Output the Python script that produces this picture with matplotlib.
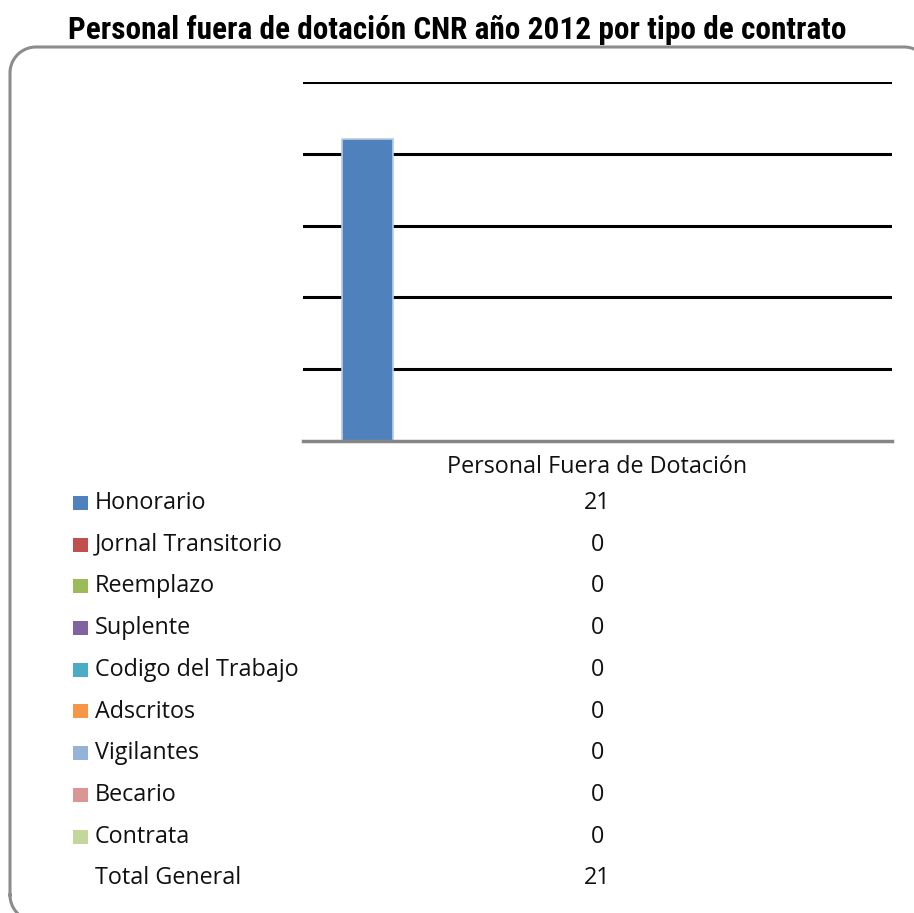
import matplotlib
matplotlib.use("Agg")
import matplotlib.pyplot as plt
import numpy as np
from matplotlib.patches import Rectangle
from matplotlib import font_manager

titulo = "Personal fuera de dotación CNR año 2012 por tipo de contrato"
categoria = "Personal Fuera de Dotación"
series = ["Honorario", "Jornal Transitorio", "Reemplazo", "Suplente",
          "Codigo del Trabajo", "Adscritos", "Vigilantes", "Becario", "Contrata"]
valores = [21, 0, 0, 0, 0, 0, 0, 0, 0]
total = 21
colores = ["#4F81BD", "#C0504D", "#9BBB59", "#8064A2", "#4BACC6",
           "#F79646", "#95B3D7", "#D99694", "#C3D69B"]

# fuente angosta para el titulo si existe
nombres = {f.name for f in font_manager.fontManager.ttflist}
fam_titulo = [n for n in ["Liberation Sans Narrow", "Roboto Condensed",
                          "DejaVu Sans Condensed", "Open Sans Condensed"]
              if n in nombres] + ["Liberation Sans", "DejaVu Sans"]

W, H = 914, 913
fig = plt.figure(figsize=(W / 100, H / 100), dpi=100)

# capa de fondo en pixeles para el marco y la tabla
fondo = fig.add_axes([0, 0, 1, 1])
fondo.set_xlim(0, W)
fondo.set_ylim(H, 0)
fondo.axis("off")

# marco redondeado, se sale por la derecha y por abajo
x0, y0m, x1, y1m, r = 10, 47, 930, 921, 26
def arco(cx, cy, a0, a1):
    a = np.radians(np.linspace(a0, a1, 30))
    return cx + r * np.cos(a), cy - r * np.sin(a)
ax1, ay1 = arco(x0 + r, y1m - r, 180, 270)
ax2, ay2 = arco(x1 - r, y1m - r, 270, 360)
ax3, ay3 = arco(x1 - r, y0m + r, 0, 90)
ax4, ay4 = arco(x0 + r, y0m + r, 90, 180)
bx = np.concatenate([ax1, ax2, ax3, ax4, ax1[:1]])
by = np.concatenate([ay1, ay2, ay3, ay4, ay1[:1]])
fondo.plot(bx, by, color="#8C8C8C", linewidth=2.2)

t = fondo.text(W / 2, 30, titulo, ha="center", va="center", fontsize=22,
               fontweight="bold", fontstretch="condensed", family=fam_titulo)
fig.canvas.draw()
ancho = t.get_window_extent().width
t.set_fontsize(22 * 774 / ancho)

ax = fig.add_axes([303 / W, 1 - 441 / H, 589 / W, 359 / H])
x = list(range(len(series)))
ax.bar(x, valores, width=1.0, color=colores, edgecolor="#B9CDE5",
       linewidth=1.2, zorder=3)
ax.set_xlim(-1.27, 10.28)
ax.set_ylim(0, 25)
ax.set_yticks([5, 10, 15, 20, 25])
ax.yaxis.grid(True, color="black", linewidth=2.2, zorder=1)
ax.set_yticklabels([])
ax.tick_params(axis="y", length=0)
ax.set_xticks([])
ax.patch.set_alpha(0)
for s in ["left", "right", "top"]:
    ax.spines[s].set_visible(False)
ax.spines["bottom"].set_color("#868686")
ax.spines["bottom"].set_linewidth(2.5)
ax.spines["bottom"].set_zorder(4)

# tabla de datos
fuente = ["Open Sans", "DejaVu Sans"]
tam = 16.8
cx = 597.5
fondo.text(cx, 467, categoria, ha="center", va="center", fontsize=tam,
           family=fuente, color="#111111")
y0, paso = 503, 41.7
for i, (nombre, v) in enumerate(zip(series, valores)):
    yy = y0 + i * paso
    fondo.add_patch(Rectangle((73, yy - 7), 15, 14, facecolor=colores[i],
                              edgecolor="none"))
    fondo.text(95, yy, nombre, ha="left", va="center", fontsize=tam,
               family=fuente, color="#111111")
    fondo.text(cx, yy, str(v), ha="center", va="center", fontsize=tam,
               family=fuente, color="#111111")
yy = y0 + len(series) * paso
fondo.text(95, yy, "Total General", ha="left", va="center", fontsize=tam,
           family=fuente, color="#111111")
fondo.text(cx, yy, str(total), ha="center", va="center", fontsize=tam,
           family=fuente, color="#111111")

fig.savefig("out.png", dpi=100)
